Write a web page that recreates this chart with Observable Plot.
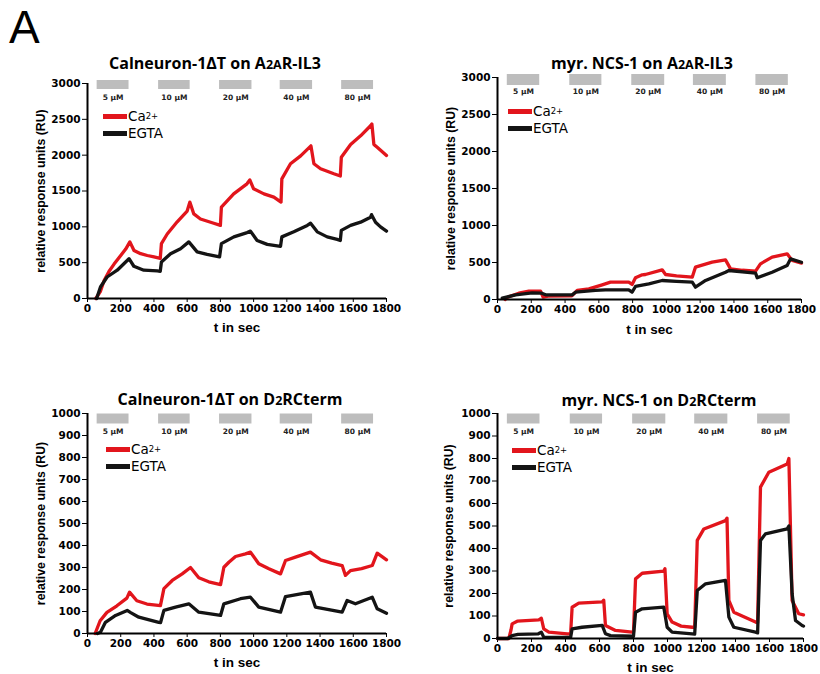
<!DOCTYPE html>
<html>
<head>
<meta charset="utf-8">
<script src="https://cdn.jsdelivr.net/npm/d3@7"></script>
<script src="https://cdn.jsdelivr.net/npm/@observablehq/plot@0.6"></script>
<style>
  body { margin: 0; background: #fff; }
  #wrap { position: relative; width: 820px; height: 674px; overflow: hidden; font-family: "Liberation Sans", Arial, sans-serif; }
  .panel { position: absolute; }
  .title { position: absolute; width: 320px; text-align: center; font-family: "Open Sans", "Liberation Sans", sans-serif; font-weight: bold; font-size: 16px; line-height: 18px; color: #000; white-space: nowrap; }
  .title .sm { font-size: 12.5px; }
  .legend { position: absolute; font-family: "DejaVu Sans", sans-serif; font-size: 13.5px; line-height: 17px; color: #000; }
  .legend div { display: flex; align-items: center; height: 17px; }
  .legend span.sw { display: inline-block; width: 24px; height: 4.5px; margin-right: 1px; }
  .letter { position: absolute; left: 9px; top: 2px; font-size: 46px; line-height: 50px; color: #000; }
  g[aria-label="y-axis label"] text { font-family: "Liberation Sans", Arial, sans-serif; font-size: 12.3px; }
  g[aria-label="x-axis label"] text { font-family: "Liberation Sans", Arial, sans-serif; font-size: 13.5px; }
</style>
</head>
<body>
<div id="wrap">
  <div class="letter">A</div>
</div>
<script>
// ---------- data ----------
const xTicks = [0, 200, 400, 600, 800, 1000, 1200, 1400, 1600, 1800];
const yTicksA2A = [0, 500, 1000, 1500, 2000, 2500, 3000];
const yTicksD2R = [0, 100, 200, 300, 400, 500, 600, 700, 800, 900, 1000];
const concLabels = ["5 µM", "10 µM", "20 µM", "40 µM", "80 µM"];
const injStart = [58, 428, 795, 1160, 1530];
const injEnd = [250, 618, 990, 1355, 1722];

// Calneuron-1ΔT on A2AR-IL3
const p1CaT = [50, 78, 100, 130, 160, 200, 230, 255, 280, 320, 360, 400, 438, 445, 480, 540, 600, 616, 640, 680, 760, 800, 806, 880, 960, 977, 1000, 1062, 1122, 1165, 1170, 1222, 1283, 1345, 1363, 1403, 1483, 1522, 1528, 1584, 1644, 1704, 1712, 1724, 1744, 1800];
const p1CaV = [0, 100, 250, 380, 480, 600, 690, 790, 670, 625, 600, 580, 560, 765, 900, 1070, 1220, 1345, 1180, 1110, 1050, 1020, 1275, 1460, 1600, 1655, 1530, 1460, 1415, 1345, 1670, 1880, 1990, 2130, 1880, 1810, 1740, 1710, 1970, 2150, 2270, 2410, 2435, 2150, 2110, 1995];
const p1EgT = [55, 78, 118, 179, 239, 250, 279, 339, 420, 438, 445, 500, 560, 610, 660, 720, 795, 806, 881, 961, 981, 1021, 1082, 1162, 1170, 1242, 1323, 1343, 1383, 1443, 1503, 1522, 1528, 1584, 1644, 1704, 1710, 1734, 1764, 1800];
const p1EgV = [0, 160, 300, 395, 530, 556, 450, 395, 385, 380, 510, 625, 695, 790, 650, 615, 580, 765, 860, 920, 940, 810, 755, 728, 860, 930, 1020, 1050, 930, 860, 825, 810, 950, 1020, 1065, 1135, 1170, 1065, 1000, 940];

// myr. NCS-1 on A2AR-IL3
const p2CaT = [45, 60, 126, 186, 255, 270, 300, 440, 472, 541, 620, 669, 777, 797, 817, 857, 876, 975, 995, 1060, 1153, 1172, 1271, 1350, 1380, 1450, 1528, 1557, 1626, 1715, 1745, 1800];
const p2CaV = [0, 31, 85, 113, 113, 31, 45, 50, 122, 144, 198, 234, 234, 203, 293, 333, 338, 401, 338, 320, 302, 437, 504, 536, 414, 395, 383, 482, 572, 617, 527, 491];
const p2EgT = [28, 107, 205, 262, 285, 442, 462, 580, 639, 777, 797, 817, 896, 975, 1060, 1153, 1172, 1232, 1350, 1370, 1528, 1538, 1626, 1715, 1735, 1800];
const p2EgV = [18, 63, 90, 85, 63, 63, 99, 122, 131, 131, 99, 176, 212, 257, 245, 234, 167, 257, 369, 392, 356, 293, 369, 459, 549, 504];

// Calneuron-1ΔT on D2RCterm
const p3CaT = [46, 76, 117, 177, 237, 253, 297, 358, 439, 460, 510, 570, 620, 670, 730, 801, 821, 851, 891, 951, 981, 1031, 1092, 1162, 1192, 1252, 1342, 1403, 1470, 1533, 1553, 1583, 1650, 1714, 1744, 1800];
const p3CaV = [0, 58, 96, 126, 161, 188, 149, 134, 127, 204, 241, 271, 300, 253, 235, 222, 301, 324, 350, 362, 370, 317, 294, 271, 332, 347, 370, 335, 320, 309, 264, 286, 295, 309, 365, 335];
const p3EgT = [60, 78, 108, 169, 239, 260, 309, 429, 440, 460, 530, 610, 670, 801, 821, 921, 981, 1031, 1162, 1192, 1342, 1372, 1533, 1563, 1613, 1714, 1744, 1800];
const p3EgV = [0, 6, 51, 82, 105, 95, 74, 51, 50, 105, 120, 135, 97, 82, 135, 158, 165, 120, 97, 168, 188, 120, 97, 150, 135, 165, 112, 92];

// myr. NCS-1 on D2RCterm
const p4CaT = [0, 67, 80, 86, 116, 243, 258, 272, 302, 410, 430, 439, 478, 616, 625, 635, 694, 792, 800, 812, 851, 978, 985, 998, 1027, 1080, 1145, 1160, 1175, 1214, 1341, 1350, 1361, 1390, 1518, 1530, 1547, 1596, 1704, 1714, 1733, 1772, 1800];
const p4CaV = [0, 0, 40, 65, 77, 83, 90, 43, 28, 21, 21, 139, 157, 163, 170, 58, 36, 28, 28, 265, 290, 299, 310, 110, 73, 55, 50, 50, 436, 487, 524, 535, 169, 117, 73, 70, 673, 739, 776, 800, 169, 110, 105];
const p4EgT = [0, 60, 86, 120, 240, 258, 272, 430, 439, 497, 616, 635, 665, 800, 812, 851, 978, 998, 1027, 1145, 1160, 1175, 1224, 1341, 1361, 1390, 1518, 1530, 1547, 1576, 1704, 1714, 1733, 1753, 1792, 1800];
const p4EgV = [0, 0, 13, 18, 21, 28, 6, 5, 43, 50, 58, 21, 13, 10, 117, 132, 139, 50, 28, 21, 20, 213, 243, 258, 95, 50, 28, 25, 436, 465, 487, 500, 199, 80, 58, 55];

const RED = "#e2151c";
const BLACK = "#141414";
const GRAY = "#bdbdbd";

// ---------- build ----------
const wrap = document.getElementById("wrap");
const zip = (ts, vs) => ts.map((t, i) => ({t, v: vs[i]}));
const bars = concLabels.map((label, i) => ({label, start: injStart[i], end: injEnd[i]}));

function panel(cfg) {
  const yMax = cfg.yTicks[cfg.yTicks.length - 1];
  const chart = Plot.plot({
    width: cfg.w, height: cfg.h,
    marginLeft: cfg.mL, marginRight: cfg.mR, marginTop: cfg.mT, marginBottom: cfg.mB,
    style: {fontFamily: "DejaVu Sans, sans-serif", fontSize: "10.5px", fontWeight: "bold", color: "#000", background: "transparent", overflow: "visible"},
    x: {domain: [0, 1800], ticks: xTicks, tickFormat: d => String(d), tickSize: 4, tickPadding: 2,
        label: "t in sec", labelAnchor: "center", labelArrow: "none", labelOffset: cfg.xLabOff},
    y: {domain: [0, yMax], ticks: cfg.yTicks, tickFormat: d => String(d), tickSize: 5, tickPadding: 2,
        label: "relative response units (RU)", labelAnchor: "center", labelArrow: "none", labelOffset: cfg.yLabOff},
    marks: [
      Plot.ruleY(bars, {x1: "start", x2: "end", y: () => yMax, stroke: GRAY, strokeWidth: cfg.barH, dy: cfg.barDy}),
      Plot.text(bars, {x: d => (d.start + d.end) / 2, y: () => yMax, text: "label", dy: cfg.labDy, fontSize: 7.5, fontWeight: "bold", fill: "#222"}),
      Plot.line(zip(cfg.caT, cfg.caV), {x: "t", y: "v", stroke: RED, strokeWidth: 3.3}),
      Plot.line(zip(cfg.egT, cfg.egV), {x: "t", y: "v", stroke: BLACK, strokeWidth: 3.3}),
      Plot.ruleX([0], {stroke: "#000", strokeWidth: 2}),
      Plot.ruleY([0], {stroke: "#000", strokeWidth: 2})
    ]
  });
  const div = document.createElement("div");
  div.className = "panel";
  div.style.left = cfg.left + "px";
  div.style.top = cfg.top + "px";
  div.appendChild(chart);
  wrap.appendChild(div);

  const title = document.createElement("div");
  title.className = "title";
  title.style.left = (cfg.titleX - 160) + "px";
  title.style.top = (cfg.titleY - 9) + "px";
  title.innerHTML = cfg.title;
  wrap.appendChild(title);

  const leg = document.createElement("div");
  leg.className = "legend";
  leg.style.left = cfg.legX + "px";
  leg.style.top = cfg.legY + "px";
  leg.innerHTML = `<div><span class="sw" style="background:${RED}"></span>Ca<sup style="font-size:8.5px;line-height:0;position:relative;top:-1px">2+</sup></div>` +
                  `<div><span class="sw" style="background:${BLACK}"></span>EGTA</div>`;
  wrap.appendChild(leg);
}

panel({left: 0, top: 50, w: 410, h: 300, mL: 87, mR: 24, mT: 33, mB: 52, yTicks: yTicksA2A,
  barH: 9, barDy: 1, labDy: 14, xLabOff: 33, yLabOff: 51,
  caT: p1CaT, caV: p1CaV, egT: p1EgT, egV: p1EgV,
  title: 'Calneuron-1ΔT on A<span class="sm">2A</span>R-IL3', titleX: 215, titleY: 63, legX: 103, legY: 108});
panel({left: 410, top: 50, w: 410, h: 300, mL: 87, mR: 19, mT: 27, mB: 51, yTicks: yTicksA2A,
  barH: 11, barDy: 2, labDy: 14.5, xLabOff: 34, yLabOff: 51,
  caT: p2CaT, caV: p2CaV, egT: p2EgT, egV: p2EgV,
  title: 'myr. NCS-1 on A<span class="sm">2A</span>R-IL3', titleX: 642, titleY: 63, legX: 508, legY: 103});
panel({left: 0, top: 380, w: 410, h: 294, mL: 87, mR: 24, mT: 33, mB: 41, yTicks: yTicksD2R,
  barH: 10, barDy: 5, labDy: 18, xLabOff: 33, yLabOff: 51,
  caT: p3CaT, caV: p3CaV, egT: p3EgT, egV: p3EgV,
  title: 'Calneuron-1ΔT on D<span class="sm">2</span>RCterm', titleX: 230, titleY: 399, legX: 106, legY: 441});
panel({left: 410, top: 380, w: 410, h: 294, mL: 87, mR: 17, mT: 33, mB: 36, yTicks: yTicksD2R,
  barH: 10, barDy: 5, labDy: 18, xLabOff: 33, yLabOff: 53,
  caT: p4CaT, caV: p4CaV, egT: p4EgT, egV: p4EgV,
  title: 'myr. NCS-1 on D<span class="sm">2</span>RCterm', titleX: 659, titleY: 400, legX: 512, legY: 442});
</script>
</body>
</html>
